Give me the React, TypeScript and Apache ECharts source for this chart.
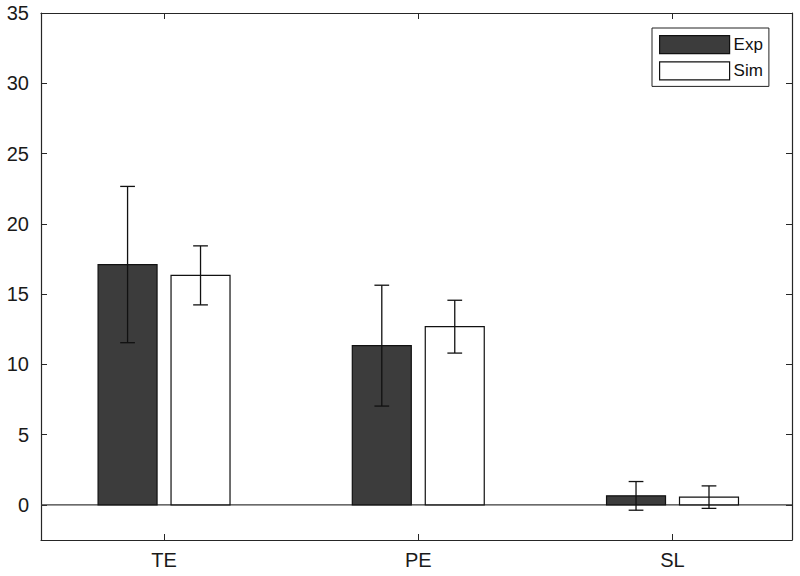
import React, { useEffect, useRef } from "react";
import * as echarts from "echarts";

const categories = ["TE", "PE", "SL"];
const expMean = [17.1, 11.33, 0.64];
const expErr = [5.56, 4.3, 1.02];
const simMean = [16.33, 12.68, 0.55];
const simErr = [2.1, 1.88, 0.8];
const yTicks = [0, 5, 10, 15, 20, 25, 30, 35];
const xTicks = [1, 2, 3];

const FONT = "'Liberation Sans', Arial, Helvetica, sans-serif";
const AX = "#262626";

function makeRender(offset: number, fill: string) {
  const halfW = 0.116;
  const cap = 0.029;
  return (params: any, api: any) => {
    const x = api.value(0) + offset;
    const v = api.value(1);
    const e = api.value(2);
    const p0 = api.coord([x - halfW, v]);
    const p1 = api.coord([x + halfW, 0]);
    const top = Math.min(p0[1], p1[1]);
    const h = Math.abs(p1[1] - p0[1]);
    const hi = api.coord([x, v + e]);
    const lo = api.coord([x, v - e]);
    const cl = api.coord([x - cap, v])[0];
    const cr = api.coord([x + cap, v])[0];
    const ls = { stroke: "#111", lineWidth: 1.3 };
    return {
      type: "group",
      children: [
        {
          type: "rect",
          shape: { x: p0[0], y: top, width: p1[0] - p0[0], height: h },
          style: { fill, stroke: "#111", lineWidth: 1.2 },
        },
        { type: "line", shape: { x1: hi[0], y1: hi[1], x2: lo[0], y2: lo[1] }, style: ls },
        { type: "line", shape: { x1: cl, y1: hi[1], x2: cr, y2: hi[1] }, style: ls },
        { type: "line", shape: { x1: cl, y1: lo[1], x2: cr, y2: lo[1] }, style: ls },
      ],
    };
  };
}

export default function App() {
  const ref = useRef<HTMLDivElement>(null);
  useEffect(() => {
    if (!ref.current) return;
    const chart = echarts.init(ref.current, null, { renderer: "svg" });
    const xmin = 0.516;
    const xmax = 3.47;
    const axisCommon = {
      type: "value",
      min: xmin,
      max: xmax,
      splitLine: { show: false },
      axisLine: { show: true, onZero: false, lineStyle: { color: AX, width: 1.2 } },
      axisTick: { show: true, inside: true, length: 6, customValues: xTicks, lineStyle: { color: AX } },
    };
    const yCommon = {
      type: "value",
      min: -2.5,
      max: 35,
      splitLine: { show: false },
      axisLine: { show: true, onZero: false, lineStyle: { color: AX, width: 1.2 } },
      axisTick: { show: true, inside: true, length: 6, customValues: yTicks, lineStyle: { color: AX } },
    };
    chart.setOption({
      animation: false,
      backgroundColor: "#fff",
      textStyle: { fontFamily: FONT },
      grid: { left: 41, right: 8, top: 13, bottom: 36, containLabel: false },
      legend: {
        left: 652,
        top: 28,
        orient: "vertical",
        padding: [7, 6, 6, 7],
        itemGap: 7,
        itemWidth: 70,
        itemHeight: 18,
        borderColor: "#222",
        borderWidth: 1,
        backgroundColor: "#fff",
        textStyle: { fontSize: 17, color: "#111", fontFamily: FONT, padding: [0, 0, 0, -1] },
        data: [
          { name: "Exp", icon: "rect", itemStyle: { color: "#3c3c3c", borderColor: "#111", borderWidth: 1.2 } },
          { name: "Sim", icon: "rect", itemStyle: { color: "#fff", borderColor: "#111", borderWidth: 1.2 } },
        ],
      },
      xAxis: [
        {
          ...axisCommon,
          position: "bottom",
          axisLabel: {
            show: true,
            customValues: xTicks,
            margin: 10,
            fontSize: 20,
            color: "#1a1a1a",
            fontFamily: FONT,
            formatter: (v: number) => categories[Math.round(v) - 1] ?? "",
          },
        },
        { ...axisCommon, position: "top", axisLabel: { show: false } },
      ],
      yAxis: [
        {
          ...yCommon,
          position: "left",
          axisLabel: { show: true, customValues: yTicks, margin: 12, fontSize: 20, color: "#1a1a1a", fontFamily: FONT },
        },
        { ...yCommon, position: "right", axisLabel: { show: false } },
      ],
      series: [
        {
          name: "zero",
          type: "line",
          xAxisIndex: 0,
          yAxisIndex: 0,
          data: [
            [xmin, 0],
            [xmax, 0],
          ],
          symbol: "none",
          lineStyle: { color: "#3a3a3a", width: 1.2 },
          silent: true,
          z: 1,
        },
        {
          name: "Exp",
          type: "custom",
          xAxisIndex: 0,
          yAxisIndex: 0,
          itemStyle: { color: "#3c3c3c" },
          renderItem: makeRender(-0.1435, "#3c3c3c"),
          data: xTicks.map((x, i) => [x, expMean[i], expErr[i]]),
          z: 2,
        },
        {
          name: "Sim",
          type: "custom",
          xAxisIndex: 0,
          yAxisIndex: 0,
          itemStyle: { color: "#fff" },
          renderItem: makeRender(0.1435, "#ffffff"),
          data: xTicks.map((x, i) => [x, simMean[i], simErr[i]]),
          z: 2,
        },
      ],
    });
    return () => chart.dispose();
  }, []);
  return <div ref={ref} style={{ position: "absolute", left: 0, top: 0, width: 800, height: 576 }} />;
}
